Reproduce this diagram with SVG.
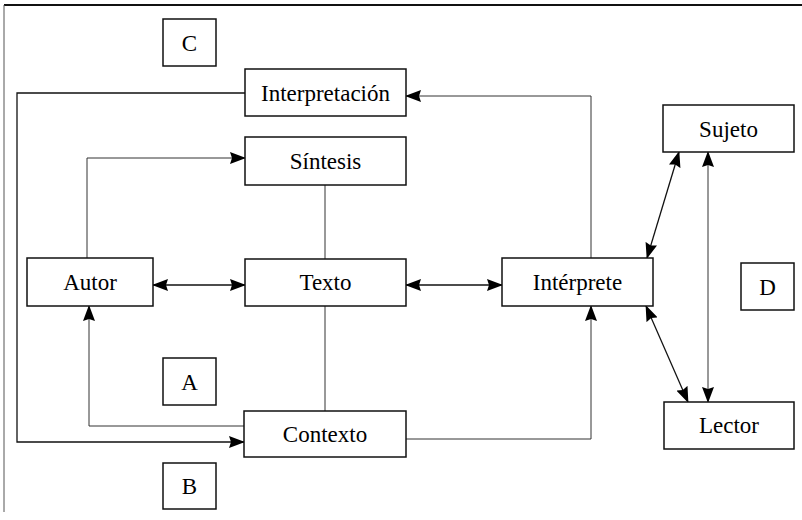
<svg xmlns="http://www.w3.org/2000/svg" width="802" height="520" viewBox="0 0 802 520">
  <style>
    .box { fill: #ffffff; stroke: #111111; stroke-width: 1.5; }
    .lbl { font-family: "Liberation Serif", "Times New Roman", serif; font-size: 23px; fill: #000000; text-anchor: middle; }
    .wire { fill: none; stroke: #111111; stroke-width: 1.3; }
    .thin { fill: none; stroke: #333333; stroke-width: 1; }
    .frame { fill: none; stroke: #111111; stroke-width: 1.8; }
  </style>
  <defs>
    <marker id="arrow" markerUnits="userSpaceOnUse" markerWidth="16" markerHeight="12" refX="15" refY="6" orient="auto-start-reverse" viewBox="0 0 16 12">
      <path d="M0,0 L16,6 L0,12 L2,6 z" fill="#000000"/>
    </marker>
  </defs>
  <rect width="802" height="520" fill="#ffffff"/>

  <!-- page frame -->
  <g id="frame">
    <line class="frame" x1="4" y1="5" x2="802" y2="5"/>
    <line x1="4" y1="5" x2="4" y2="512" stroke="#555555" stroke-width="1"/>
  </g>

  <!-- connectors -->
  <g id="connectors">
    <!-- Interpretación loops round the left edge into Contexto -->
    <polyline class="wire" points="245,93 17,93 17,442 244,442" marker-end="url(#arrow)"/>
    <!-- Autor up to Síntesis -->
    <polyline class="thin" points="87,258 87,158 245,158" marker-end="url(#arrow)"/>
    <!-- central spine -->
    <line class="thin" x1="325" y1="185" x2="325" y2="259"/>
    <line class="thin" x1="325" y1="306" x2="325" y2="411"/>
    <!-- Autor / Texto / Intérprete -->
    <line class="wire" x1="153" y1="285" x2="245" y2="285" marker-start="url(#arrow)" marker-end="url(#arrow)"/>
    <line class="wire" x1="406" y1="285" x2="502" y2="285" marker-start="url(#arrow)" marker-end="url(#arrow)"/>
    <!-- Contexto back to Autor and on to Intérprete -->
    <polyline class="thin" points="244,426 89,426 89,306" marker-end="url(#arrow)"/>
    <polyline class="thin" points="406,439 591,439 591,306" marker-end="url(#arrow)"/>
    <!-- Intérprete up to Interpretación -->
    <polyline class="thin" points="591,258 591,96 406,96" marker-end="url(#arrow)"/>
    <!-- Intérprete / Sujeto / Lector triangle -->
    <line class="wire" x1="647" y1="258" x2="679" y2="152" marker-start="url(#arrow)" marker-end="url(#arrow)"/>
    <line class="wire" x1="646" y1="306" x2="688" y2="402" marker-start="url(#arrow)" marker-end="url(#arrow)"/>
    <line class="thin" x1="708" y1="152" x2="708" y2="402" marker-start="url(#arrow)" marker-end="url(#arrow)"/>
  </g>

  <!-- nodes -->
  <g id="node-c"><rect class="box" x="163" y="19" width="53" height="47"/><text class="lbl" x="189.5" y="51">C</text></g>
  <g id="node-interpretacion"><rect class="box" x="245" y="69" width="161" height="47"/><text class="lbl" x="325.5" y="101">Interpretación</text></g>
  <g id="node-sintesis"><rect class="box" x="245" y="137" width="161" height="48"/><text class="lbl" x="325.5" y="169">Síntesis</text></g>
  <g id="node-sujeto"><rect class="box" x="663" y="105" width="131" height="47"/><text class="lbl" x="728.5" y="137">Sujeto</text></g>
  <g id="node-autor"><rect class="box" x="27" y="258" width="126" height="48"/><text class="lbl" x="90" y="290">Autor</text></g>
  <g id="node-texto"><rect class="box" x="245" y="259" width="161" height="47"/><text class="lbl" x="325.5" y="290">Texto</text></g>
  <g id="node-interprete"><rect class="box" x="502" y="258" width="151" height="48"/><text class="lbl" x="577.5" y="290">Intérprete</text></g>
  <g id="node-d"><rect class="box" x="741" y="263" width="53" height="47"/><text class="lbl" x="767.5" y="295">D</text></g>
  <g id="node-a"><rect class="box" x="163" y="358" width="53" height="47"/><text class="lbl" x="189.5" y="390">A</text></g>
  <g id="node-contexto"><rect class="box" x="244" y="411" width="162" height="46"/><text class="lbl" x="325" y="442">Contexto</text></g>
  <g id="node-b"><rect class="box" x="163" y="463" width="53" height="46"/><text class="lbl" x="189.5" y="494">B</text></g>
  <g id="node-lector"><rect class="box" x="664" y="402" width="130" height="47"/><text class="lbl" x="729" y="433">Lector</text></g>
</svg>
